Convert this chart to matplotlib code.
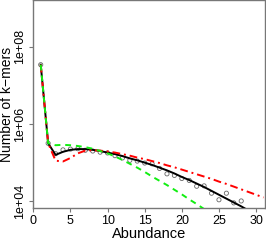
import numpy as np
import matplotlib
matplotlib.use("Agg")
from matplotlib import pyplot as plt

plt.rcParams['font.family'] = ['Liberation Sans', 'DejaVu Sans']

# observed k-mer counts (log10) at abundance 1..28
obs_x = np.arange(1, 29)
obs_log = [7.53, 5.50, 5.23, 5.33, 5.35, 5.36, 5.32, 5.30, 5.27, 5.25,
           5.18, 5.12, 5.06, 5.04, 4.99, 4.97, 4.85, 4.71, 4.67, 4.59,
           4.54, 4.39, 4.40, 4.21, 4.04, 4.21, 3.96, 4.01]

# full model fit (black)
fit_x = np.arange(1, 30)
fit_log = [7.53, 5.50, 5.20, 5.28, 5.33, 5.35, 5.35, 5.33, 5.30, 5.26,
           5.22, 5.17, 5.11, 5.06, 5.00, 4.94, 4.87, 4.80, 4.72, 4.63,
           4.55, 4.46, 4.37, 4.27, 4.17, 4.07, 3.97, 3.87, 3.76]

# red dash-dot model
red_x = np.arange(1, 32)
red_log = [7.53, 5.50, 5.05, 5.03, 5.12, 5.24, 5.31, 5.32, 5.31, 5.29,
           5.26, 5.22, 5.18, 5.13, 5.09, 5.04, 4.99, 4.93, 4.88, 4.82,
           4.76, 4.70, 4.64, 4.58, 4.51, 4.45, 4.38, 4.31, 4.24, 4.17, 4.10]

# green dashed model
green_x = np.arange(1, 24)
green_log = [7.53, 5.50, 5.45, 5.46, 5.45, 5.43, 5.40, 5.36, 5.30, 5.24,
             5.16, 5.07, 4.97, 4.87, 4.76, 4.64, 4.53, 4.42, 4.30, 4.18,
             4.05, 3.93, 3.80]

xticks = [0, 5, 10, 15, 20, 25, 30]
yticks = [1e4, 1e6, 1e8]
ytick_labels = ["1e+04", "1e+06", "1e+08"]

fig = plt.figure(figsize=(2.66, 2.40), dpi=100)
ax = fig.add_axes([33.3 / 266, 1 - 208.3 / 240, (265 - 33.3) / 266, 208.3 / 240 - 0.002])

ax.plot(fit_x, 10 ** np.array(fit_log), color='black', lw=1.4, zorder=3)
ax.plot(red_x, 10 ** np.array(red_log), color='red', lw=1.4, ls=(0, (4, 2, 1, 2)), zorder=4)
ax.plot(green_x, 10 ** np.array(green_log), color='#11ee11', lw=1.4, ls=(0, (3, 2.5)), zorder=5)
ax.scatter(obs_x, 10 ** np.array(obs_log), s=9, facecolors='none', edgecolors='#666666',
           linewidths=0.6, zorder=2)

ax.set_yscale('log')
ax.set_xlim(0, 31.2)
ax.set_ylim(10 ** 3.82, 10 ** 9.19)
ax.minorticks_off()
ax.set_xticks(xticks)
ax.set_yticks(yticks)
ax.set_yticklabels(ytick_labels, rotation=90, va='center')
ax.tick_params(colors='#777777', labelcolor='black', labelsize=9, length=3, width=0.8, pad=2)

for sp in ax.spines.values():
    sp.set_color('#777777')
    sp.set_linewidth(1.0)

ax.set_xlabel("Abundance", fontsize=10.5, labelpad=0)
fig.text(7.5 / 266, 1 - 104 / 240, "Number of k\u2212mers", rotation=90, fontsize=10,
         ha='center', va='center')

fig.savefig("out.png", dpi=100)
